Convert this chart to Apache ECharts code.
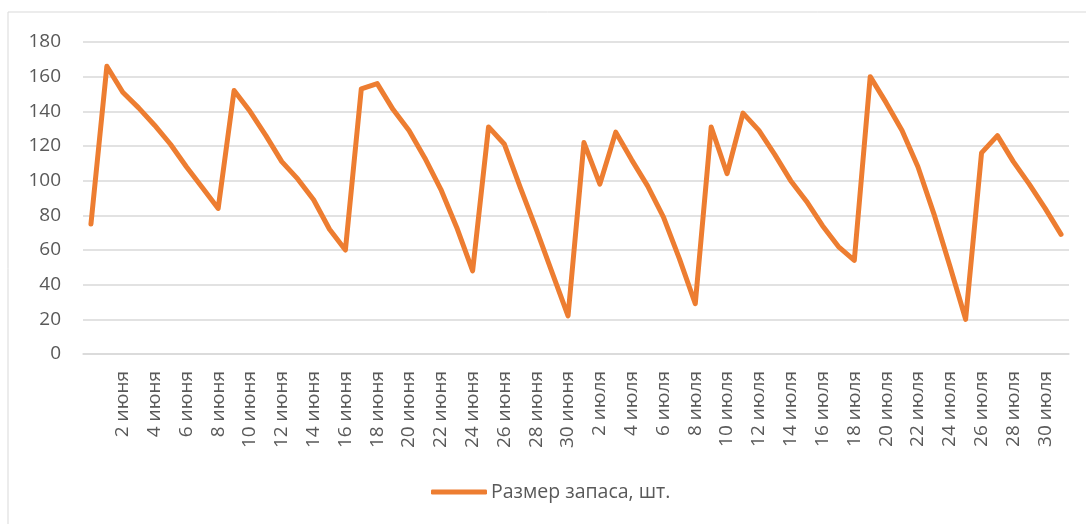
<!DOCTYPE html>
<html>
<head>
<meta charset="utf-8">
<script src="https://cdn.jsdelivr.net/npm/echarts@6/dist/echarts.min.js"></script>
<style>
  html, body { margin: 0; padding: 0; background: #fff; }
  #chart { width: 1086px; height: 524px; }
</style>
</head>
<body>
<div id="chart"></div>
<script>
// first category is blank, then 1 июня .. 30 июня, 1 июля .. 31 июля
const juneDays = ['1 июня','2 июня','3 июня','4 июня','5 июня','6 июня','7 июня','8 июня','9 июня','10 июня',
  '11 июня','12 июня','13 июня','14 июня','15 июня','16 июня','17 июня','18 июня','19 июня','20 июня',
  '21 июня','22 июня','23 июня','24 июня','25 июня','26 июня','27 июня','28 июня','29 июня','30 июня'];
const julyDays = ['1 июля','2 июля','3 июля','4 июля','5 июля','6 июля','7 июля','8 июля','9 июля','10 июля',
  '11 июля','12 июля','13 июля','14 июля','15 июля','16 июля','17 июля','18 июля','19 июля','20 июля',
  '21 июля','22 июля','23 июля','24 июля','25 июля','26 июля','27 июля','28 июля','29 июля','30 июля','31 июля'];
const categories = [''].concat(juneDays, julyDays);

const stock = [75, 166, 151, 142, 132, 121, 108, 96, 84, 152,
  140, 126, 111, 101, 89, 72, 60, 153, 156, 141,
  129, 113, 95, 73, 48, 131, 121, 96, 72, 47,
  22, 122, 98, 128, 112, 97, 79, 55, 29, 131,
  104, 139, 129, 115, 100, 88, 74, 62, 54, 160,
  145, 129, 108, 81, 51, 20, 116, 126, 111, 98,
  84, 69];

const seriesName = 'Размер запаса, шт.';
const font = '"Open Sans", "Noto Sans", sans-serif';
const textColor = '#595959';
const lineColor = '#ED7D31';

const chart = echarts.init(document.getElementById('chart'), null, { renderer: 'canvas' });

chart.setOption({
  animation: false,
  backgroundColor: '#fff',
  textStyle: { fontFamily: font },
  graphic: [{
    type: 'rect',
    shape: { x: 8, y: 12, width: 1100, height: 540 },
    style: { fill: 'none', stroke: '#d9d9d9', lineWidth: 1 },
    silent: true
  }],
  grid: { left: 83, right: 17, top: 42, bottom: 170, containLabel: false },
  legend: {
    data: [{ name: seriesName, icon: 'roundRect' }],
    left: 431,
    top: 482,
    padding: 0,
    itemWidth: 56,
    itemHeight: 5,
    itemGap: 4,
    itemStyle: { color: lineColor, borderWidth: 0 },
    textStyle: { color: textColor, fontSize: 19.5, fontFamily: font, padding: [0, 0, 0, -1] }
  },
  xAxis: {
    type: 'category',
    data: categories,
    boundaryGap: true,
    axisLine: { lineStyle: { color: '#d9d9d9', width: 1.5 } },
    axisTick: { show: false },
    axisLabel: {
      interval: 1,
      rotate: 90,
      margin: 17,
      color: textColor,
      fontSize: 19,
      fontFamily: font
    }
  },
  yAxis: {
    type: 'value',
    min: 0,
    max: 180,
    interval: 20,
    axisLine: { show: false },
    axisTick: { show: false },
    splitLine: { lineStyle: { color: '#d9d9d9', width: 1.5 } },
    axisLabel: { margin: 22, color: textColor, fontSize: 19, fontFamily: font }
  },
  series: [{
    name: seriesName,
    type: 'line',
    data: stock,
    symbol: 'none',
    smooth: false,
    lineStyle: { color: lineColor, width: 5, cap: 'round', join: 'round' },
    itemStyle: { color: lineColor }
  }]
});
</script>
</body>
</html>
